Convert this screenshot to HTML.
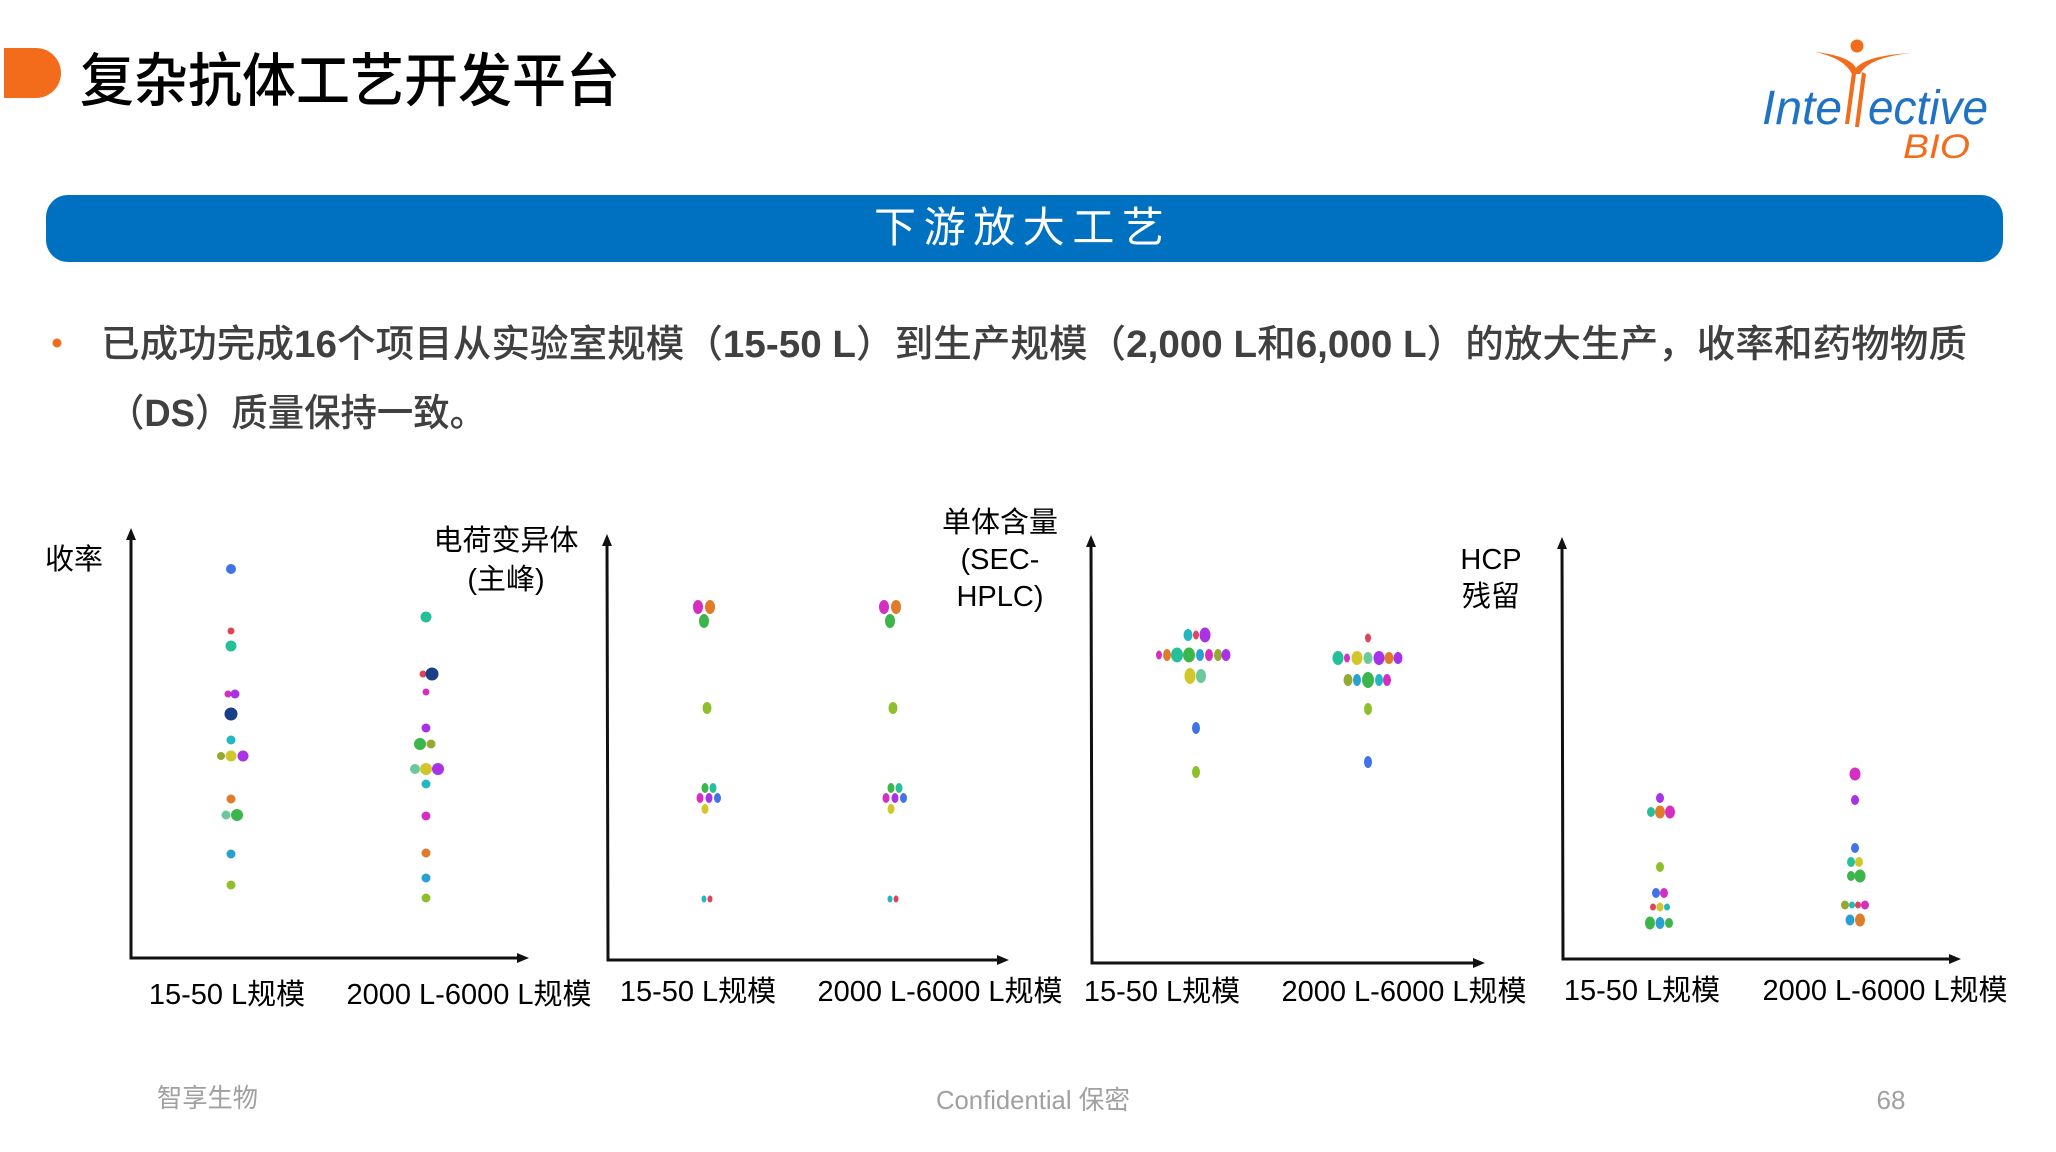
<!DOCTYPE html>
<html><head><meta charset="utf-8"><style>
html,body{margin:0;padding:0;background:#fff;}
body{width:2056px;height:1152px;overflow:hidden;}
svg{display:block}
</style></head><body>
<svg width="2056" height="1152" viewBox="0 0 2056 1152" xmlns="http://www.w3.org/2000/svg">
<rect width="2056" height="1152" fill="#fff"/>
<!-- header -->
<path d="M4 48 H36 A25 25 0 0 1 36 98 H4 Z" fill="#f26c1c"/>
<text x="80" y="101" font-family="Noto Sans CJK SC, sans-serif" font-size="58" font-weight="500" fill="#000" textLength="540" lengthAdjust="spacingAndGlyphs">复杂抗体工艺开发平台</text>
<!-- logo -->
<g>
<circle cx="1857" cy="46" r="6.5" fill="#f26c1c"/>
<path d="M1815 52 Q1850 56 1856 68 Q1866 56 1910 53 Q1868 58 1860 74 L1852 74 Q1844 58 1815 52 Z" fill="#f26c1c"/>
<path d="M1852 72 L1845 124 L1849 124 L1856 74 Z M1862 72 L1855 127 L1859 127 L1866 74 Z" fill="#f26c1c"/>
<text x="1762" y="124" font-family="Liberation Sans, sans-serif" font-style="italic" font-size="48" fill="#1f72c4" textLength="80" lengthAdjust="spacingAndGlyphs">Inte</text>
<text x="1868" y="124" font-family="Liberation Sans, sans-serif" font-style="italic" font-size="48" fill="#1f72c4" textLength="120" lengthAdjust="spacingAndGlyphs">ective</text>
<text x="1903" y="158" font-family="Liberation Sans, sans-serif" font-style="italic" font-size="34" fill="#f26c1c" textLength="67" lengthAdjust="spacingAndGlyphs">BIO</text>
</g>
<!-- blue bar -->
<rect x="46" y="195" width="1957" height="67" rx="22" fill="#0070c0"/>
<text x="1019" y="242" text-anchor="middle" font-family="Noto Sans CJK SC, sans-serif" font-size="42" fill="#fff" textLength="290" lengthAdjust="spacing">下游放大工艺</text>
<!-- bullet -->
<circle cx="57" cy="343" r="4.5" fill="#f26c1c"/>
<text x="101" y="357" font-family="Liberation Sans, Noto Sans CJK SC, sans-serif" font-size="38" font-weight="500" fill="#404040" textLength="1866" lengthAdjust="spacingAndGlyphs">已成功完成<tspan font-weight="700">16</tspan>个项目从实验室规模（<tspan font-weight="700">15-50 L</tspan>）到生产规模（<tspan font-weight="700">2,000 L</tspan>和<tspan font-weight="700">6,000 L</tspan>）的放大生产，收率和药物物质</text>
<text x="108" y="426" font-family="Liberation Sans, Noto Sans CJK SC, sans-serif" font-size="38" font-weight="500" fill="#404040" textLength="378" lengthAdjust="spacingAndGlyphs">（<tspan font-weight="700">DS</tspan>）质量保持一致。</text>

<!-- axes -->
<g stroke="#111" stroke-width="3" fill="none">
<path d="M131 536 L131 958 L521 958"/>
<path d="M607 542 L608 960 L1001 960"/>
<path d="M1091 543 L1092 963 L1477 963"/>
<path d="M1562 545 L1563 959 L1953 959"/>
</g>
<g fill="#111">
<path d="M131 528 L126 540 L136 540 Z"/><path d="M529 958 L517 953 L517 963 Z"/>
<path d="M607 534 L602 546 L612 546 Z"/><path d="M1009 960 L997 955 L997 965 Z"/>
<path d="M1091 535 L1086 547 L1096 547 Z"/><path d="M1485 963 L1473 958 L1473 968 Z"/>
<path d="M1562 537 L1557 549 L1567 549 Z"/><path d="M1961 959 L1949 954 L1949 964 Z"/>
</g>

<!-- axis titles -->
<g font-family="Liberation Sans, Noto Sans CJK SC, sans-serif" font-size="29" fill="#000" text-anchor="middle">
<text x="74" y="569">收率</text>
<text x="506" y="550">电荷变异体</text>
<text x="506" y="589">(主峰)</text>
<text x="1000" y="532">单体含量</text>
<text x="1000" y="569">(SEC-</text>
<text x="1000" y="606">HPLC)</text>
<text x="1491" y="569">HCP</text>
<text x="1491" y="606">残留</text>
</g>
<!-- x labels -->
<g font-family="Liberation Sans, Noto Sans CJK SC, sans-serif" font-size="29" fill="#000" text-anchor="middle">
<text x="227" y="1004">15-50 L规模</text>
<text x="469" y="1004">2000 L-6000 L规模</text>
<text x="698" y="1001">15-50 L规模</text>
<text x="940" y="1001">2000 L-6000 L规模</text>
<text x="1162" y="1001">15-50 L规模</text>
<text x="1404" y="1001">2000 L-6000 L规模</text>
<text x="1642" y="1000">15-50 L规模</text>
<text x="1885" y="1000">2000 L-6000 L规模</text>
</g>
<!-- footer -->
<g font-family="Liberation Sans, Noto Sans CJK SC, sans-serif" font-size="26" fill="#a0a0a0">
<text x="157" y="1107" textLength="101" lengthAdjust="spacingAndGlyphs">智享生物</text>
<text x="1033" y="1109" text-anchor="middle" textLength="194" lengthAdjust="spacingAndGlyphs">Confidential 保密</text>
<text x="1891" y="1109" text-anchor="middle">68</text>
</g>

<!-- panel 1 dots -->
<g>
<circle cx="231" cy="569" r="5" fill="#3f73e6"/>
<circle cx="231" cy="631" r="3.5" fill="#e0435a"/>
<circle cx="231" cy="646" r="5.5" fill="#25c09a"/>
<circle cx="228" cy="694" r="3.5" fill="#d42fc0"/><circle cx="235" cy="694" r="4.5" fill="#a832e6"/>
<circle cx="231" cy="714" r="6.5" fill="#1a3f87"/>
<circle cx="231" cy="740" r="4.5" fill="#22b8c0"/>
<circle cx="221" cy="756" r="4" fill="#94a832"/><circle cx="231" cy="756" r="5.5" fill="#d2c72a"/><circle cx="243" cy="756" r="5.5" fill="#a832e6"/>
<circle cx="231" cy="799" r="4.5" fill="#e07b2a"/>
<circle cx="226" cy="815" r="4.5" fill="#6cc898"/><circle cx="237" cy="815" r="6" fill="#3cb54a"/>
<circle cx="231" cy="854" r="4.5" fill="#2aa0d0"/>
<circle cx="231" cy="885" r="4.5" fill="#8fbf2a"/>

<circle cx="426" cy="617" r="5.5" fill="#25c09a"/>
<circle cx="423" cy="674" r="3.5" fill="#e0435a"/><circle cx="432" cy="674" r="6.5" fill="#1a3f87"/>
<circle cx="426" cy="692" r="3.5" fill="#d42fc0"/>
<circle cx="426" cy="728" r="4.5" fill="#a832e6"/>
<circle cx="420" cy="744" r="6" fill="#3cb54a"/><circle cx="431" cy="744" r="4.5" fill="#94a832"/>
<circle cx="415" cy="769" r="5" fill="#6cc898"/><circle cx="426" cy="769" r="6" fill="#d2c72a"/><circle cx="438" cy="769" r="6" fill="#a832e6"/>
<circle cx="426" cy="784" r="4.5" fill="#22b8c0"/>
<circle cx="426" cy="816" r="4.5" fill="#d42fc0"/>
<circle cx="426" cy="853" r="4.5" fill="#e07b2a"/>
<circle cx="426" cy="878" r="4.5" fill="#2aa0d0"/>
<circle cx="426" cy="898" r="4.5" fill="#8fbf2a"/>
</g>
<!-- panel 2 dots -->
<g>
<ellipse cx="698" cy="607" rx="5" ry="7" fill="#d42fc0"/><ellipse cx="710" cy="607" rx="5" ry="7" fill="#e07b2a"/>
<ellipse cx="704" cy="621" rx="5" ry="7" fill="#3cb54a"/>
<ellipse cx="707" cy="708" rx="4.5" ry="6" fill="#8fbf2a"/>
<ellipse cx="705" cy="788" rx="3.5" ry="5" fill="#3cb54a"/><ellipse cx="713" cy="788" rx="3.5" ry="5" fill="#25c09a"/>
<ellipse cx="700" cy="798" rx="3.5" ry="5" fill="#d42fc0"/><ellipse cx="709" cy="798" rx="3.5" ry="5" fill="#a832e6"/><ellipse cx="717.5" cy="798" rx="3.5" ry="5" fill="#3f73e6"/>
<ellipse cx="705" cy="809" rx="3.5" ry="5" fill="#d2c72a"/>
<ellipse cx="704" cy="899" rx="2.5" ry="3.5" fill="#22b8c0"/><ellipse cx="710" cy="899" rx="2.5" ry="3.5" fill="#e0435a"/>
</g>
<g transform="translate(186,0)">
<ellipse cx="698" cy="607" rx="5" ry="7" fill="#d42fc0"/><ellipse cx="710" cy="607" rx="5" ry="7" fill="#e07b2a"/>
<ellipse cx="704" cy="621" rx="5" ry="7" fill="#3cb54a"/>
<ellipse cx="707" cy="708" rx="4.5" ry="6" fill="#8fbf2a"/>
<ellipse cx="705" cy="788" rx="3.5" ry="5" fill="#3cb54a"/><ellipse cx="713" cy="788" rx="3.5" ry="5" fill="#25c09a"/>
<ellipse cx="700" cy="798" rx="3.5" ry="5" fill="#d42fc0"/><ellipse cx="709" cy="798" rx="3.5" ry="5" fill="#a832e6"/><ellipse cx="717.5" cy="798" rx="3.5" ry="5" fill="#3f73e6"/>
<ellipse cx="705" cy="809" rx="3.5" ry="5" fill="#d2c72a"/>
<ellipse cx="704" cy="899" rx="2.5" ry="3.5" fill="#22b8c0"/><ellipse cx="710" cy="899" rx="2.5" ry="3.5" fill="#e0435a"/>
</g>
<!-- panel 3 dots -->
<g>
<ellipse cx="1188" cy="635" rx="4.5" ry="6" fill="#22b8c0"/><ellipse cx="1196" cy="635" rx="3" ry="4.5" fill="#e0435a"/><ellipse cx="1205" cy="635" rx="5.5" ry="7.5" fill="#a832e6"/>
<ellipse cx="1159" cy="655" rx="3" ry="4.5" fill="#d42fc0"/><ellipse cx="1167" cy="655" rx="4" ry="6" fill="#e07b2a"/><ellipse cx="1177" cy="655" rx="6" ry="7.5" fill="#25c09a"/><ellipse cx="1189" cy="655" rx="6" ry="7.5" fill="#3cb54a"/><ellipse cx="1200" cy="655" rx="4" ry="6" fill="#2aa0d0"/><ellipse cx="1209" cy="655" rx="4" ry="6" fill="#d42fc0"/><ellipse cx="1218" cy="655" rx="4" ry="6" fill="#94a832"/><ellipse cx="1226" cy="655" rx="4.5" ry="6" fill="#a832e6"/>
<ellipse cx="1190" cy="676" rx="5.5" ry="8" fill="#d2c72a"/><ellipse cx="1201" cy="676" rx="5" ry="7" fill="#6cc898"/>
<ellipse cx="1196" cy="728" rx="4" ry="6" fill="#3f73e6"/>
<ellipse cx="1196" cy="772" rx="4" ry="6" fill="#8fbf2a"/>

<ellipse cx="1368" cy="638" rx="3" ry="4.5" fill="#e0435a"/>
<ellipse cx="1338" cy="658" rx="5.5" ry="7" fill="#25c09a"/><ellipse cx="1347" cy="658" rx="3" ry="4.5" fill="#d42fc0"/><ellipse cx="1357" cy="658" rx="5.5" ry="7" fill="#d2c72a"/><ellipse cx="1368" cy="658" rx="4.5" ry="6" fill="#6cc898"/><ellipse cx="1379" cy="658" rx="5.5" ry="7" fill="#a832e6"/><ellipse cx="1389" cy="658" rx="4.5" ry="6" fill="#e07b2a"/><ellipse cx="1398" cy="658" rx="4.5" ry="6" fill="#a832e6"/>
<ellipse cx="1348" cy="680" rx="4.5" ry="6" fill="#94a832"/><ellipse cx="1357" cy="680" rx="4" ry="6" fill="#2aa0d0"/><ellipse cx="1368" cy="680" rx="6" ry="8" fill="#3cb54a"/><ellipse cx="1379" cy="680" rx="4" ry="6" fill="#22b8c0"/><ellipse cx="1387" cy="680" rx="4" ry="6" fill="#d42fc0"/>
<ellipse cx="1368" cy="709" rx="4" ry="6" fill="#8fbf2a"/>
<ellipse cx="1368" cy="762" rx="4" ry="6" fill="#3f73e6"/>
</g>
<!-- panel 4 dots -->
<g>
<ellipse cx="1660" cy="798" rx="4" ry="5" fill="#a832e6"/>
<ellipse cx="1651" cy="812" rx="4" ry="5" fill="#25c09a"/><ellipse cx="1660" cy="812" rx="5" ry="6.5" fill="#e07b2a"/><ellipse cx="1670" cy="812" rx="5" ry="6.5" fill="#d42fc0"/>
<ellipse cx="1660" cy="867" rx="4" ry="5" fill="#8fbf2a"/>
<ellipse cx="1656" cy="893" rx="4" ry="5" fill="#3f73e6"/><ellipse cx="1664" cy="893" rx="4" ry="5" fill="#d42fc0"/>
<ellipse cx="1653" cy="907" rx="3" ry="3.5" fill="#e0435a"/><ellipse cx="1660" cy="907" rx="3.5" ry="4.5" fill="#d2c72a"/><ellipse cx="1667" cy="907" rx="3" ry="3.5" fill="#22b8c0"/>
<ellipse cx="1650" cy="923" rx="5" ry="6.5" fill="#3cb54a"/><ellipse cx="1660" cy="923" rx="4.5" ry="6" fill="#2aa0d0"/><ellipse cx="1669" cy="923" rx="4" ry="5" fill="#3cb54a"/>

<ellipse cx="1855" cy="774" rx="5.5" ry="6.5" fill="#d42fc0"/>
<ellipse cx="1855" cy="800" rx="4" ry="5" fill="#a832e6"/>
<ellipse cx="1855" cy="848" rx="4" ry="5" fill="#3f73e6"/>
<ellipse cx="1851" cy="862" rx="4" ry="5" fill="#25c09a"/><ellipse cx="1859" cy="862" rx="4" ry="5" fill="#d2c72a"/>
<ellipse cx="1851" cy="876" rx="4" ry="5" fill="#3cb54a"/><ellipse cx="1860" cy="876" rx="5.5" ry="6.5" fill="#3cb54a"/>
<ellipse cx="1845" cy="905" rx="4" ry="4.5" fill="#94a832"/><ellipse cx="1852" cy="905" rx="3" ry="3.5" fill="#22b8c0"/><ellipse cx="1858" cy="905" rx="3" ry="3.5" fill="#e0435a"/><ellipse cx="1865" cy="905" rx="4" ry="4.5" fill="#d42fc0"/>
<ellipse cx="1850" cy="920" rx="4.5" ry="5.5" fill="#2aa0d0"/><ellipse cx="1860" cy="920" rx="5" ry="6.5" fill="#e07b2a"/>
</g>
</svg>
</body></html>
